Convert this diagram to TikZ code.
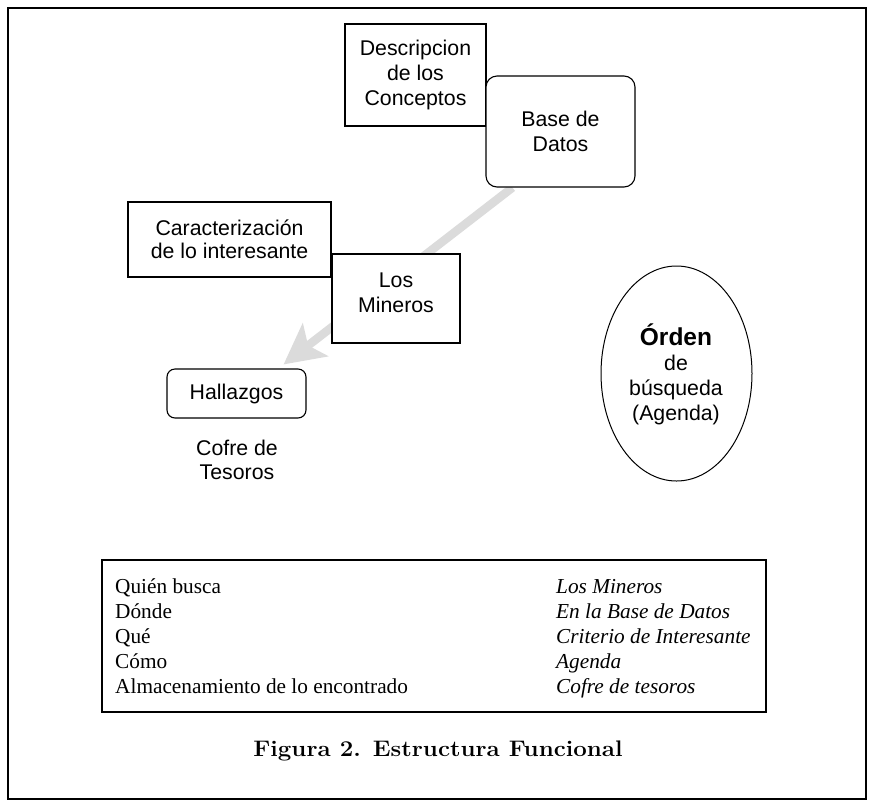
\documentclass[tikz,border=0pt]{standalone}
\usepackage{fontspec}
\newfontfamily\arialf{Liberation Sans}
\newfontfamily\timesf{Liberation Serif}
\usetikzlibrary{shapes.geometric,arrows.meta,backgrounds}
\begin{document}
\begin{tikzpicture}[x=1pt,y=-1pt,
  sbox/.style={draw, line width=1.1pt, fill=white, inner sep=0pt, align=center,
    font=\arialf\fontsize{21.3}{25}\selectfont},
  rbox/.style={sbox, rounded corners=11pt},
  lbl/.style={inner sep=0pt, align=center, font=\arialf\fontsize{21.3}{23.5}\selectfont},
  tleft/.style={inner sep=0pt, anchor=base west, font=\timesf\fontsize{21.3}{25}\selectfont},
  tright/.style={tleft, font=\timesf\itshape\fontsize{21.3}{25}\selectfont},
  flow/.style={draw=gray!28, line width=8.5pt, -{Stealth[length=40pt,width=41pt,inset=9pt]}}]
\useasboundingbox (0,0) rectangle (869,801);
\node[draw, line width=1.1pt, minimum width=858pt, minimum height=791pt, inner sep=0pt] (frame) at (437,403.5) {};
% boxes
\node[sbox, minimum width=141pt, minimum height=102pt] (desc) at (415.5,75) {Descripcion\\de los\\Conceptos};
\node[rbox, minimum width=149pt, minimum height=111pt] (bd) at (560.5,131.5) {Base de\\Datos};
\node[sbox, minimum width=203pt, minimum height=75pt, font=\arialf\fontsize{21.3}{23.5}\selectfont] (car) at (229.5,239.5) {Caracterización\\de lo interesante};
\node[sbox, minimum width=128pt, minimum height=89pt] (min) at (396,298.5) {};
\node[lbl, font=\arialf\fontsize{21.3}{25}\selectfont] (mint) at (396,293) {Los\\Mineros};
\node[rbox, rounded corners=8pt, minimum width=139pt, minimum height=49pt] (hal) at (236.5,393.5) {Hallazgos};
\node[lbl] (cofre) at (237,460) {Cofre de\\Tesoros};
\node[draw, ellipse, line width=1pt, minimum width=151pt, minimum height=215pt, inner sep=0pt] (ord) at (676.5,373.5) {};
\node[lbl, font=\arialf\fontsize{21.3}{25}\selectfont] (ordt) at (676,374) {{\fontsize{24.5}{26}\selectfont\bfseries Órden}\\de\\búsqueda\\(Agenda)};
% flow arrow behind the boxes
\begin{scope}[on background layer]
\draw[flow] ([xshift=27pt]bd.south west) -- ([xshift=-23pt,yshift=4pt]hal.north east);
\end{scope}
% table
\node[draw, line width=1.1pt, minimum width=664pt, minimum height=152pt, inner sep=0pt] (tab) at (434,636) {};
\node[tleft] (q1) at (115,593) {Quién busca};
\node[tleft] (q2) at (115,618) {Dónde};
\node[tleft] (q3) at (115,643) {Qué};
\node[tleft] (q4) at (115,668) {Cómo};
\node[tleft] (q5) at (115,693) {Almacenamiento de lo encontrado};
\node[tright] (r1) at (556,593) {Los Mineros};
\node[tright] (r2) at (556,618) {En la Base de Datos};
\node[tright] (r3) at (556,643) {Criterio de Interesante};
\node[tright] (r4) at (556,668) {Agenda};
\node[tright] (r5) at (556,693) {Cofre de tesoros};
\node[inner sep=0pt, anchor=base, font=\fontsize{22.5}{26}\selectfont\bfseries] (cap) at (438,756) {\scalebox{1.07}[1]{Figura 2. Estructura Funcional}};
\end{tikzpicture}
\end{document}
